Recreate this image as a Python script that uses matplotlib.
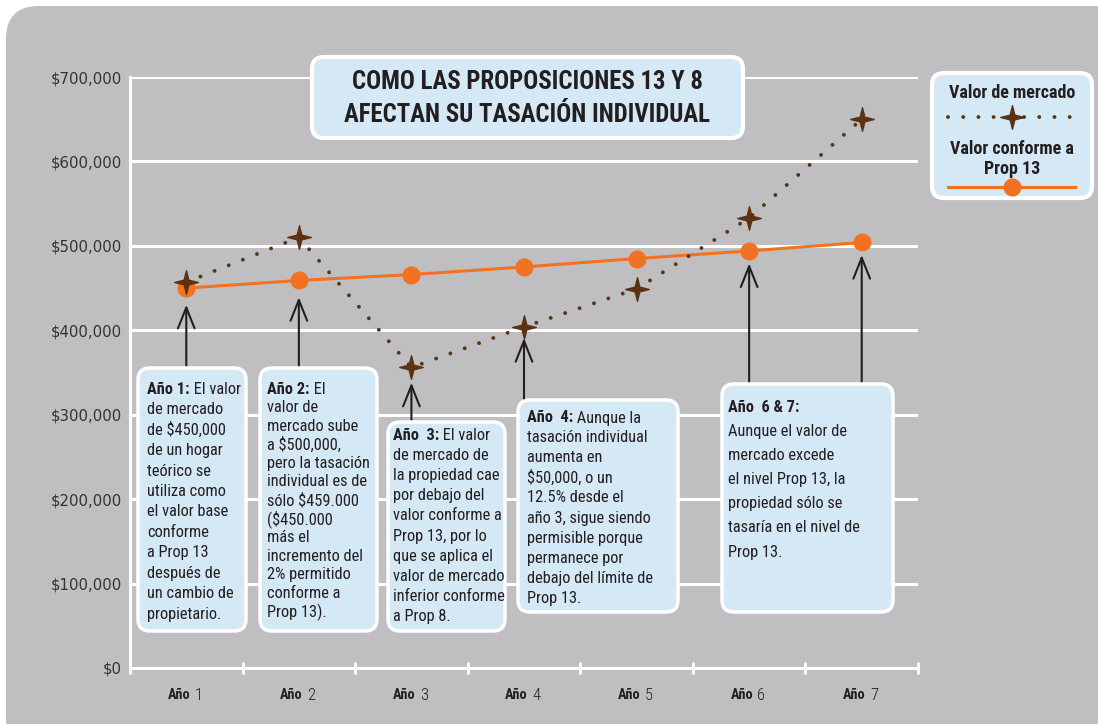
import matplotlib
matplotlib.use("Agg")
import matplotlib.pyplot as plt
from matplotlib.patches import FancyBboxPatch
from matplotlib.path import Path
from matplotlib.lines import Line2D
import matplotlib.transforms as mtransforms

# ---------------- data ----------------
years = ["Año 1", "Año 2", "Año 3", "Año 4", "Año 5", "Año 6", "Año 7"]
market_values = [457000, 510000, 356000, 404000, 449000, 533000, 650000]
prop13_values = [450000, 459000, 466000, 475000, 485000, 494000, 504000]
y_ticks = [0, 100000, 200000, 300000, 400000, 500000, 600000, 700000]
y_tick_labels = ["$0", "$100,000", "$200,000", "$300,000", "$400,000",
                 "$500,000", "$600,000", "$700,000"]
title_lines = ["COMO LAS PROPOSICIONES 13 Y 8", "AFECTAN SU TASACIÓN INDIVIDUAL"]
legend_market = "Valor de mercado"
legend_prop13 = ["Valor conforme a", "Prop 13"]

note1 = [("Año 1:", " El valor"), "de mercado", "de $450,000", "de un hogar",
         "teórico se", "utiliza como", "el valor base", "conforme", "a Prop 13",
         "después de", "un cambio de", "propietario."]
note2 = [("Año 2:", " El"), "valor de", "mercado sube", "a $500,000,",
         "pero la tasación", "individual es de", "sólo $459.000", "($450.000",
         "más el", "incremento del", "2% permitido", "conforme a", "Prop 13)."]
note3 = [("Año  3:", " El valor"), "de mercado de", "la propiedad cae",
         "por debajo del", "valor conforme a", "Prop 13, por lo",
         "que se aplica el", "valor de mercado", "inferior conforme", "a Prop 8."]
note4 = [("Año  4:", " Aunque la"), "tasación individual", "aumenta en",
         "$50,000, o un", "12.5% desde el", "año 3, sigue siendo",
         "permisible porque", "permanece por", "debajo del límite de", "Prop 13."]
note67 = [("Año  6 & 7:", ""), "Aunque el valor de", "mercado excede",
          "el nivel Prop 13, la", "propiedad sólo se", "tasaría en el nivel de",
          "Prop 13."]

# ---------------- style ----------------
W, H = 1098, 724
GRAY = "#bfbfc1"
BOXBLUE = "#d5e8f6"
BROWN = "#5b3312"
ORANGE = "#f37221"
DARK = "#231f20"
NARROW = ["Roboto Condensed", "DejaVu Sans"]

fig = plt.figure(figsize=(W / 100, H / 100), dpi=100)
fig.patch.set_facecolor("white")


def px(x, y):
    return (x / W, 1 - y / H)


# gray rounded background panel
bg = FancyBboxPatch(px(6, 760), (W + 40) / W, (760 - 6) / H,
                    boxstyle="round,pad=0,rounding_size=0.03",
                    transform=fig.transFigure, facecolor=GRAY, edgecolor="none",
                    zorder=-10, mutation_aspect=W / H)
fig.patches.append(bg)

ax = fig.add_axes([130 / W, 1 - 668 / H, (918 - 130) / W, (668 - 77) / H])
ax.set_zorder(1)
ax.set_facecolor("none")
ax.set_xlim(0.5, 7.5)
ax.set_ylim(0, 700000)

# grid & spines
ax.set_yticks(y_ticks)
ax.set_yticklabels(y_tick_labels, fontsize=10.7, color="#333333",
                   family=["DejaVu Sans"])
ax.tick_params(axis="y", length=0, pad=6)
ax.yaxis.grid(True, color="white", linewidth=2.2, zorder=1)
ax.set_axisbelow(True)
for s in ["top", "right"]:
    ax.spines[s].set_visible(False)
for s in ["left", "bottom"]:
    ax.spines[s].set_color("white")
    ax.spines[s].set_linewidth(2.2)

xpos = list(range(1, len(years) + 1))
ax.set_xticks(xpos)
ax.set_xticklabels([""] * len(years))
ax.tick_params(axis="x", which="major", length=0)
ax.set_xticks([p - 0.5 for p in xpos] + [xpos[-1] + 0.5], minor=True)
ax.tick_params(axis="x", which="minor", length=9, width=2, direction="inout",
               color="white")

# x labels: bold "Año" + regular number
tr = mtransforms.blended_transform_factory(ax.transData, ax.transAxes)
for p, lab in zip(xpos, years):
    word, num = lab.split(" ")
    ax.annotate(word, xy=(p, 0), xycoords=tr, xytext=(2.8, -19.5),
                textcoords="offset points", ha="right", va="center",
                fontsize=10.3, fontweight="bold", family=NARROW, color=DARK)
    ax.annotate(num, xy=(p, 0), xycoords=tr, xytext=(6.0, -19.5),
                textcoords="offset points", ha="left", va="center",
                fontsize=12, fontweight="light", family=NARROW, color=DARK)

# series
star = Path([(0, 1), (0.2, 0.2), (1, 0), (0.2, -0.2), (0, -1),
             (-0.2, -0.2), (-1, 0), (-0.2, 0.2), (0, 1)],
            [Path.MOVETO] + [Path.LINETO] * 7 + [Path.CLOSEPOLY])

ax.plot(xpos, prop13_values, color=ORANGE, linewidth=2.2, zorder=3,
        marker="o", markersize=12, markerfacecolor=ORANGE,
        markeredgecolor=ORANGE)
ax.plot(xpos, market_values, color=BROWN, linewidth=2.8,
        linestyle=(0, (0.01, 3.9)), dash_capstyle="round", zorder=4)
ax.plot(xpos, market_values, linestyle="none", marker=star, markersize=17,
        markerfacecolor=BROWN, markeredgecolor=BROWN, zorder=5)


# ---------------- annotation boxes ----------------
def rbox(x0, y0, x1, y1, r=12, lw=2.5, z=6):
    p = FancyBboxPatch(px(x0, y1), (x1 - x0) / W, (y1 - y0) / H,
                       boxstyle=f"round,pad=0,rounding_size={r / W}",
                       mutation_aspect=W / H, transform=fig.transFigure,
                       facecolor=BOXBLUE, edgecolor="white", linewidth=lw,
                       zorder=z)
    fig.patches.append(p)


renderer = fig.canvas.get_renderer()


def note_text(lines, x, y, dy, fs=11.8):
    for i, ln in enumerate(lines):
        yy = y + i * dy
        if isinstance(ln, tuple):
            b, rest = ln
            t = fig.text(*px(x, yy), b, ha="left", va="center", fontsize=fs,
                         fontweight="bold", family=NARROW, color=DARK,
                         zorder=10)
            bb = t.get_window_extent(renderer=renderer)
            if rest:
                fig.text(bb.x1 / W, 1 - yy / H, rest, ha="left", va="center",
                         fontsize=fs, family=NARROW, color=DARK, zorder=10)
        else:
            fig.text(*px(x, yy), ln, ha="left", va="center", fontsize=fs,
                     family=NARROW, color=DARK, zorder=10)


rbox(138, 368, 246, 631)
rbox(260, 368, 377, 631)
rbox(388, 422, 505, 631)
rbox(518, 400, 678, 612)
rbox(722, 384, 893, 612)
note_text(note1, 147, 389, 20.5)
note_text(note2, 267, 389, 18.6)
note_text(note3, 393, 435, 20.2)
note_text(note4, 527, 418, 20.0)
note_text(note67, 728, 407, 24.2)

# arrows from box tops to the points (drawn beneath the boxes)
arrow_tr = mtransforms.blended_transform_factory(ax.transData, fig.transFigure)
arrows = [(1, prop13_values[0], 368, 12), (2, prop13_values[1], 368, 12),
          (3, market_values[2], 422, 11), (4, market_values[3], 400, 8),
          (6, prop13_values[5], 385, 9), (7, prop13_values[6], 385, 9)]
for xa, ya, ytop, gap in arrows:
    ax.annotate("", xy=(xa, ya), xycoords="data",
                xytext=(xa, 1 - ytop / H), textcoords=arrow_tr,
                arrowprops=dict(arrowstyle="->,head_length=0.75,head_width=0.3",
                                color=DARK, linewidth=1.5, shrinkA=0,
                                shrinkB=gap, mutation_scale=20),
                zorder=2)

# ---------------- title box ----------------
rbox(312, 57, 743, 138, r=12, lw=3)
fig.text(*px(527, 82), title_lines[0], ha="center", va="center", fontsize=17.8,
         fontweight="bold", family=NARROW, color=DARK, zorder=10)
fig.text(*px(527, 115), title_lines[1], ha="center", va="center", fontsize=17.8,
         fontweight="bold", family=NARROW, color=DARK, zorder=10)

# ---------------- legend box ----------------
rbox(932, 73, 1092, 198, r=12, lw=3)
fig.text(*px(1012, 93), legend_market, ha="center", va="center", fontsize=13,
         fontweight="bold", family=NARROW, color=DARK, zorder=10)
fig.text(*px(1012, 149), legend_prop13[0], ha="center", va="center",
         fontsize=13, fontweight="bold", family=NARROW, color=DARK, zorder=10)
fig.text(*px(1012, 169), legend_prop13[1], ha="center", va="center",
         fontsize=13, fontweight="bold", family=NARROW, color=DARK, zorder=10)
lx0, lx1 = 948 / W, 1075 / W
ly1 = 1 - 117 / H
ly2 = 1 - 187 / H
fig.add_artist(Line2D([lx0, lx1], [ly1, ly1], transform=fig.transFigure,
                      color=BROWN, linewidth=2.8, linestyle=(0, (0.01, 3.9)),
                      dash_capstyle="round", zorder=11))
fig.add_artist(Line2D([1012 / W], [ly1], transform=fig.transFigure,
                      marker=star, markersize=17, color=BROWN,
                      linestyle="none", zorder=12))
fig.add_artist(Line2D([lx0, lx1], [ly2, ly2], transform=fig.transFigure,
                      color=ORANGE, linewidth=2.2, zorder=11))
fig.add_artist(Line2D([1012 / W], [ly2], transform=fig.transFigure,
                      marker="o", markersize=12, color=ORANGE,
                      linestyle="none", zorder=12))

fig.savefig("out.png", dpi=100, facecolor="white")
